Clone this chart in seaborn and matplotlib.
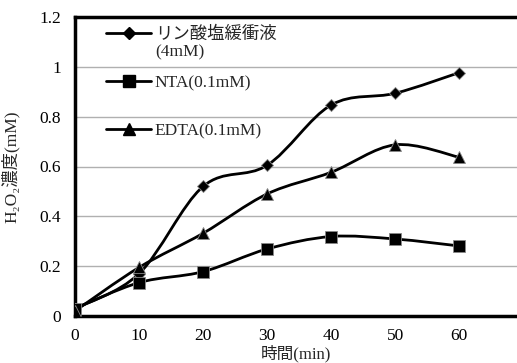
import numpy as np
import pandas as pd
import seaborn as sns
from matplotlib import pyplot as plt
from matplotlib.path import Path
from matplotlib.patches import PathPatch
from matplotlib.lines import Line2D

# data
time_min = [0, 10, 20, 30, 40, 50, 60]
phosphate = [0.03, 0.17, 0.52, 0.605, 0.847, 0.894, 0.977]
nta = [0.03, 0.134, 0.178, 0.269, 0.319, 0.309, 0.281]
edta = [0.02, 0.195, 0.332, 0.49, 0.577, 0.687, 0.637]
labels = ['リン酸塩緩衝液', 'NTA(0.1mM)', 'EDTA(0.1mM)']
phosphate_note = '(4mM)'
markers = ['D', 's', '^']
marker_sizes = [6, 9, 8]

sns.set_theme(style='white')
plt.rcParams['font.family'] = ['Liberation Serif', 'DejaVu Serif', 'Noto Sans CJK JP']

df = pd.DataFrame({'time': time_min * 3,
                   'value': phosphate + nta + edta,
                   'series': sum([[lab] * len(time_min) for lab in labels], [])})

fig = plt.figure(figsize=(5.17, 3.63), dpi=100)
ax = fig.add_axes([75 / 517, 1 - 316 / 363, 1 - 75 / 517, 299 / 363])


def smooth_path(xs, ys):
    # Catmull-Rom style bezier through the points (like Excel's smoothed line)
    p = np.column_stack([xs, ys]).astype(float)
    ext = np.vstack([p[0], p, p[-1]])
    verts = [p[0]]
    codes = [Path.MOVETO]
    for i in range(len(p) - 1):
        p0, p1, p2, p3 = ext[i], ext[i + 1], ext[i + 2], ext[i + 3]
        verts += [p1 + (p2 - p0) / 6, p2 - (p3 - p1) / 6, p2]
        codes += [Path.CURVE4] * 3
    return Path(verts, codes)


for ys in [phosphate, nta, edta]:
    ax.add_patch(PathPatch(smooth_path(time_min, ys), fill=False,
                           edgecolor='black', lw=2, zorder=2))

for lab, m, ms in zip(labels, markers, marker_sizes):
    sub = df[df['series'] == lab]
    ax.plot(sub['time'], sub['value'], linestyle='none', marker=m,
            markersize=ms, color='black', markeredgecolor='#888888',
            markeredgewidth=0.6, zorder=3)

ax.set_xlim(0, 69)
ax.set_ylim(0, 1.2)
ax.set_xticks(time_min)
ax.set_yticks([0, 0.2, 0.4, 0.6, 0.8, 1.0, 1.2])
ax.set_yticklabels(['0', '0.2', '0.4', '0.6', '0.8', '1', '1.2'])
ax.tick_params(axis='both', labelsize=12.5, length=4, width=0.8,
               colors='#888888', labelcolor='black')
ax.tick_params(axis='x', pad=5)
ax.tick_params(axis='y', pad=6)
ax.yaxis.grid(True, color='#b0b0b0', lw=1)
ax.set_axisbelow(True)

for s in ['left', 'bottom', 'top']:
    ax.spines[s].set_color('black')
    ax.spines[s].set_linewidth(2.5)
ax.spines['right'].set_visible(False)

ax.set_xlabel('時間(min)', fontsize=12)
ax.xaxis.set_label_coords(0.5, -0.097)
ax.set_ylabel('H₂O₂濃度(mM)', fontsize=12.5)
ax.yaxis.set_label_coords(-0.125, 0.5)

handles = [Line2D([], [], color='black', lw=2, marker=m, markersize=ms)
           for m, ms in zip(markers, marker_sizes)]
leg = ax.legend(handles, labels, loc='upper left', bbox_to_anchor=(0.035, 1.02),
                frameon=False, fontsize=12.5, handlelength=2.6, handletextpad=0.2,
                labelspacing=1.85)
fig.text(155 / 517, 1 - 52 / 363, phosphate_note, fontsize=12.5,
         ha='left', va='center')

fig.savefig('out.png', dpi=100)
